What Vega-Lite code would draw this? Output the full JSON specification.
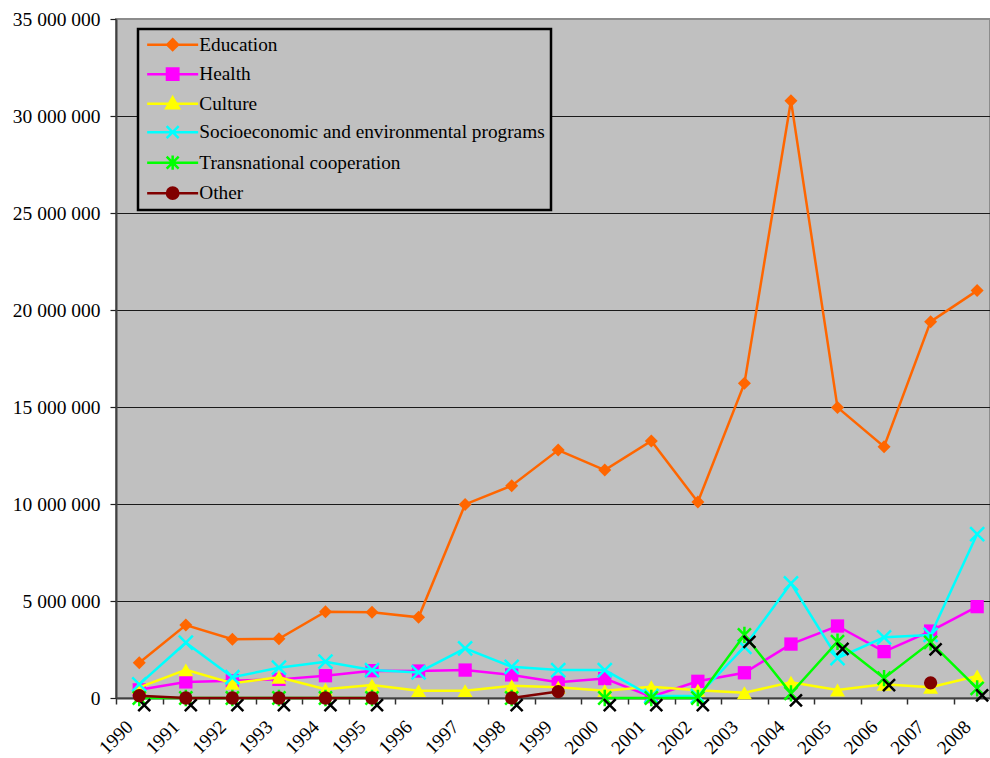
{
  "$schema": "https://vega.github.io/schema/vega-lite/v6.json",
  "width": 874,
  "height": 679,
  "autosize": {"type": "none"},
  "padding": {"left": 116, "top": 19, "right": 0, "bottom": 60},
  "background": "white",
  "config": {
    "view": {"fill": "#C0C0C0", "stroke": "#8c8c8c", "strokeWidth": 2},
    "legend": {
      "strokeWidth": 2.5,
      "strokeColor": "black",
      "fillColor": "#C0C0C0",
      "cornerRadius": 0
    }
  },
  "data": {
    "values": [
      {"year": 1990, "series": "Education", "value": 1820000},
      {"year": 1991, "series": "Education", "value": 3760000},
      {"year": 1992, "series": "Education", "value": 3030000},
      {"year": 1993, "series": "Education", "value": 3050000},
      {"year": 1994, "series": "Education", "value": 4450000},
      {"year": 1995, "series": "Education", "value": 4420000},
      {"year": 1996, "series": "Education", "value": 4160000},
      {"year": 1997, "series": "Education", "value": 9980000},
      {"year": 1998, "series": "Education", "value": 10940000},
      {"year": 1999, "series": "Education", "value": 12780000},
      {"year": 2000, "series": "Education", "value": 11750000},
      {"year": 2001, "series": "Education", "value": 13250000},
      {"year": 2002, "series": "Education", "value": 10100000},
      {"year": 2003, "series": "Education", "value": 16220000},
      {"year": 2004, "series": "Education", "value": 30790000},
      {"year": 2005, "series": "Education", "value": 14980000},
      {"year": 2006, "series": "Education", "value": 12950000},
      {"year": 2007, "series": "Education", "value": 19400000},
      {"year": 2008, "series": "Education", "value": 21000000},

      {"year": 1990, "series": "Health", "value": 420000},
      {"year": 1991, "series": "Health", "value": 830000},
      {"year": 1992, "series": "Health", "value": 890000},
      {"year": 1993, "series": "Health", "value": 960000},
      {"year": 1994, "series": "Health", "value": 1150000},
      {"year": 1995, "series": "Health", "value": 1410000},
      {"year": 1996, "series": "Health", "value": 1390000},
      {"year": 1997, "series": "Health", "value": 1440000},
      {"year": 1998, "series": "Health", "value": 1190000},
      {"year": 1999, "series": "Health", "value": 810000},
      {"year": 2000, "series": "Health", "value": 1000000},
      {"year": 2001, "series": "Health", "value": 70000},
      {"year": 2002, "series": "Health", "value": 860000},
      {"year": 2003, "series": "Health", "value": 1300000},
      {"year": 2004, "series": "Health", "value": 2780000},
      {"year": 2005, "series": "Health", "value": 3710000},
      {"year": 2006, "series": "Health", "value": 2390000},
      {"year": 2007, "series": "Health", "value": 3450000},
      {"year": 2008, "series": "Health", "value": 4710000},

      {"year": 1990, "series": "Culture", "value": 550000},
      {"year": 1991, "series": "Culture", "value": 1450000},
      {"year": 1992, "series": "Culture", "value": 760000},
      {"year": 1993, "series": "Culture", "value": 1070000},
      {"year": 1994, "series": "Culture", "value": 450000},
      {"year": 1995, "series": "Culture", "value": 670000},
      {"year": 1996, "series": "Culture", "value": 380000},
      {"year": 1997, "series": "Culture", "value": 380000},
      {"year": 1998, "series": "Culture", "value": 630000},
      {"year": 1999, "series": "Culture", "value": 550000},
      {"year": 2000, "series": "Culture", "value": 380000},
      {"year": 2001, "series": "Culture", "value": 580000},
      {"year": 2002, "series": "Culture", "value": 400000},
      {"year": 2003, "series": "Culture", "value": 270000},
      {"year": 2004, "series": "Culture", "value": 810000},
      {"year": 2005, "series": "Culture", "value": 410000},
      {"year": 2006, "series": "Culture", "value": 710000},
      {"year": 2007, "series": "Culture", "value": 550000},
      {"year": 2008, "series": "Culture", "value": 1130000},

      {"year": 1990, "series": "Socioeconomic and environmental programs", "value": 700000},
      {"year": 1991, "series": "Socioeconomic and environmental programs", "value": 2850000},
      {"year": 1992, "series": "Socioeconomic and environmental programs", "value": 1070000},
      {"year": 1993, "series": "Socioeconomic and environmental programs", "value": 1560000},
      {"year": 1994, "series": "Socioeconomic and environmental programs", "value": 1870000},
      {"year": 1995, "series": "Socioeconomic and environmental programs", "value": 1440000},
      {"year": 1996, "series": "Socioeconomic and environmental programs", "value": 1320000},
      {"year": 1997, "series": "Socioeconomic and environmental programs", "value": 2560000},
      {"year": 1998, "series": "Socioeconomic and environmental programs", "value": 1610000},
      {"year": 1999, "series": "Socioeconomic and environmental programs", "value": 1440000},
      {"year": 2000, "series": "Socioeconomic and environmental programs", "value": 1440000},
      {"year": 2001, "series": "Socioeconomic and environmental programs", "value": 100000},
      {"year": 2002, "series": "Socioeconomic and environmental programs", "value": 100000},
      {"year": 2003, "series": "Socioeconomic and environmental programs", "value": 2640000},
      {"year": 2004, "series": "Socioeconomic and environmental programs", "value": 5910000},
      {"year": 2005, "series": "Socioeconomic and environmental programs", "value": 2050000},
      {"year": 2006, "series": "Socioeconomic and environmental programs", "value": 3130000},
      {"year": 2007, "series": "Socioeconomic and environmental programs", "value": 3250000},
      {"year": 2008, "series": "Socioeconomic and environmental programs", "value": 8450000},

      {"year": 1990, "series": "Transnational cooperation", "value": 0},
      {"year": 1991, "series": "Transnational cooperation", "value": 0},
      {"year": 1992, "series": "Transnational cooperation", "value": 0},
      {"year": 1993, "series": "Transnational cooperation", "value": 0},
      {"year": 1994, "series": "Transnational cooperation", "value": 0},
      {"year": 1995, "series": "Transnational cooperation", "value": 0},
      {"year": 1996, "series": "Transnational cooperation", "value": null},
      {"year": 1997, "series": "Transnational cooperation", "value": null},
      {"year": 1998, "series": "Transnational cooperation", "value": 0},
      {"year": 1999, "series": "Transnational cooperation", "value": null},
      {"year": 2000, "series": "Transnational cooperation", "value": 0},
      {"year": 2001, "series": "Transnational cooperation", "value": 0},
      {"year": 2002, "series": "Transnational cooperation", "value": 0},
      {"year": 2003, "series": "Transnational cooperation", "value": 3250000},
      {"year": 2004, "series": "Transnational cooperation", "value": 240000},
      {"year": 2005, "series": "Transnational cooperation", "value": 2900000},
      {"year": 2006, "series": "Transnational cooperation", "value": 1020000},
      {"year": 2007, "series": "Transnational cooperation", "value": 2870000},
      {"year": 2008, "series": "Transnational cooperation", "value": 500000},

      {"year": 1990, "series": "Other", "value": 120000},
      {"year": 1991, "series": "Other", "value": 0},
      {"year": 1992, "series": "Other", "value": 0},
      {"year": 1993, "series": "Other", "value": 0},
      {"year": 1994, "series": "Other", "value": 0},
      {"year": 1995, "series": "Other", "value": 0},
      {"year": 1996, "series": "Other", "value": null},
      {"year": 1997, "series": "Other", "value": null},
      {"year": 1998, "series": "Other", "value": 0},
      {"year": 1999, "series": "Other", "value": 330000},
      {"year": 2000, "series": "Other", "value": null},
      {"year": 2001, "series": "Other", "value": null},
      {"year": 2002, "series": "Other", "value": null},
      {"year": 2003, "series": "Other", "value": null},
      {"year": 2004, "series": "Other", "value": null},
      {"year": 2005, "series": "Other", "value": null},
      {"year": 2006, "series": "Other", "value": null},
      {"year": 2007, "series": "Other", "value": 780000},
      {"year": 2008, "series": "Other", "value": null}
    ]
  },
  "encoding": {
    "x": {
      "field": "year",
      "type": "quantitative",
      "scale": {"domain": [1989.5, 2008.276], "nice": false, "zero": false},
      "axis": {
        "title": null,
        "values": [1989.5, 1990.5, 1991.5, 1992.5, 1993.5, 1994.5, 1995.5, 1996.5, 1997.5, 1998.5, 1999.5, 2000.5, 2001.5, 2002.5, 2003.5, 2004.5, 2005.5, 2006.5, 2007.5],
        "labelExpr": "format(datum.value + 0.5, 'd')",
        "labelAngle": -45,
        "labelFont": "Liberation Serif, Times New Roman, serif",
        "labelFontSize": 19.3,
        "labelColor": "black",
        "labelPadding": 13,
        "labelOffset": 7,
        "labelOverlap": false,
        "labelFlush": false,
        "labelBound": false,
        "tickSize": 6,
        "tickColor": "#303030",
        "tickWidth": 1.5,
        "domainColor": "#404040",
        "domainWidth": 2,
        "grid": false
      }
    },
    "y": {
      "field": "value",
      "type": "quantitative",
      "scale": {"domain": [0, 35000000], "nice": false, "zero": true},
      "axis": {
        "title": null,
        "values": [0, 5000000, 10000000, 15000000, 20000000, 25000000, 30000000, 35000000],
        "labelExpr": "replace(replace(format(datum.value, ',d'), ',', ' '), ',', ' ')",
        "labelFont": "Liberation Serif, Times New Roman, serif",
        "labelFontSize": 19.5,
        "labelColor": "black",
        "labelPadding": 10,
        "tickSize": 6,
        "tickColor": "#202020",
        "tickWidth": 1.2,
        "domainColor": "#404040",
        "domainWidth": 2,
        "grid": true,
        "gridColor": {"condition": {"test": "datum.value === 35000000", "value": "#8c8c8c"}, "value": "#1a1a1a"},
        "gridWidth": 1.2
      }
    }
  },
  "layer": [
    {
      "transform": [{"filter": "datum.series === 'Education'"}],
      "layer": [
        {"mark": {"type": "line", "color": "#FF6600", "strokeWidth": 2.5, "invalid": "break-paths-filter-domains"}, "encoding": {}},
        {"mark": {"type": "point", "shape": "diamond", "filled": true, "size": 169, "color": "#FF6600", "opacity": 1}}
      ]
    },
    {
      "transform": [{"filter": "datum.series === 'Health'"}],
      "layer": [
        {"mark": {"type": "line", "color": "#FF00FF", "strokeWidth": 2.5, "invalid": "break-paths-filter-domains"}, "encoding": {}},
        {"mark": {"type": "point", "shape": "square", "filled": true, "size": 177, "color": "#FF00FF", "opacity": 1}}
      ]
    },
    {
      "transform": [{"filter": "datum.series === 'Culture'"}],
      "layer": [
        {"mark": {"type": "line", "color": "#FFFF00", "strokeWidth": 2.5, "invalid": "break-paths-filter-domains"}, "encoding": {}},
        {"mark": {"type": "point", "shape": "triangle-up", "filled": true, "size": 225, "color": "#FFFF00", "opacity": 1}}
      ]
    },
    {
      "transform": [{"filter": "datum.series === 'Socioeconomic and environmental programs'"}],
      "layer": [
        {"mark": {"type": "line", "color": "#00FFFF", "strokeWidth": 2.5, "invalid": "break-paths-filter-domains"}, "encoding": {}},
        {"mark": {"type": "point", "shape": "M-1,-1L1,1M1,-1L-1,1", "filled": false, "size": 196, "stroke": "#00FFFF", "strokeWidth": 2.5, "opacity": 1}}
      ]
    },
    {
      "transform": [{"filter": "datum.series === 'Transnational cooperation'"}],
      "layer": [
        {"mark": {"type": "line", "color": "#00FF00", "strokeWidth": 2.5, "invalid": "break-paths-filter-domains"}, "encoding": {}},
        {"mark": {"type": "point", "shape": "M-1,-1L1,1M1,-1L-1,1M0,-1.25V1.25", "filled": false, "size": 170, "stroke": "#00FF00", "strokeWidth": 2.5, "opacity": 1}},
        {"mark": {"type": "point", "shape": "M-0.17,0.17L1.83,2.17M1.83,0.17L-0.17,2.17", "filled": false, "size": 144, "stroke": "black", "strokeWidth": 2.5, "opacity": 1}}
      ]
    },
    {
      "transform": [{"filter": "datum.series === 'Other'"}],
      "layer": [
        {"mark": {"type": "line", "color": "#800000", "strokeWidth": 2.5, "invalid": "break-paths-filter-domains"}, "encoding": {}},
        {"mark": {"type": "point", "shape": "circle", "filled": true, "size": 177, "color": "#800000", "opacity": 1}}
      ]
    },
    {
      "mark": {"type": "point", "filled": true, "opacity": 0},
      "encoding": {
        "fill": {
          "field": "series", "type": "nominal",
          "scale": {
            "domain": ["Education", "Health", "Culture", "Socioeconomic and environmental programs", "Transnational cooperation", "Other"],
            "range": ["#FF6600", "#FF00FF", "#FFFF00", "#00FFFF", "#00FF00", "#800000"]
          },
          "legend": {
            "title": null, "orient": "none", "legendX": 22, "legendY": 10,
            "padding": 6, "symbolOffset": 19, "labelOffset": 17, "symbolSize": 144,
            "symbolStrokeWidth": 2.5, "symbolOpacity": 1, "rowPadding": 6.5,
            "labelFont": "Liberation Serif, Times New Roman, serif", "labelFontSize": 19.3, "labelColor": "black", "labelLimit": 500,
            "fillColor": "#C0C0C0", "strokeColor": "black"
          }
        },
        "stroke": {
          "field": "series", "type": "nominal",
          "scale": {
            "domain": ["Education", "Health", "Culture", "Socioeconomic and environmental programs", "Transnational cooperation", "Other"],
            "range": ["#FF6600", "#FF00FF", "#FFFF00", "#00FFFF", "#00FF00", "#800000"]
          },
          "legend": {
            "title": null, "orient": "none", "legendX": 22, "legendY": 10,
            "padding": 6, "symbolOffset": 19, "labelOffset": 17, "symbolSize": 144,
            "symbolStrokeWidth": 2.5, "symbolOpacity": 1, "rowPadding": 6.5,
            "labelFont": "Liberation Serif, Times New Roman, serif", "labelFontSize": 19.3, "labelColor": "black", "labelLimit": 500,
            "fillColor": "#C0C0C0", "strokeColor": "black"
          }
        },
        "shape": {
          "field": "series", "type": "nominal",
          "scale": {
            "domain": ["Education", "Health", "Culture", "Socioeconomic and environmental programs", "Transnational cooperation", "Other"],
            "range": [
              "M-4.25,0H4.25M0,-0.9L0.9,0L0,0.9L-0.9,0Z",
              "M-4.25,0H4.25M-0.95,-0.95H0.95V0.95H-0.95Z",
              "M-4.25,0H4.25M0,-1.05L1.05,0.75H-1.05Z",
              "M-4.25,0H4.25M-1,-1L1,1M1,-1L-1,1",
              "M-4.25,0H4.25M-1,-1L1,1M1,-1L-1,1M0,-1.2V1.2",
              "M-4.25,0H4.25M0.95,0A0.95,0.95,0,1,1,-0.95,0A0.95,0.95,0,1,1,0.95,0Z"
            ]
          },
          "legend": {
            "title": null, "orient": "none", "legendX": 22, "legendY": 10,
            "padding": 6, "symbolOffset": 19, "labelOffset": 17, "symbolSize": 144,
            "symbolStrokeWidth": 2.5, "symbolOpacity": 1, "rowPadding": 6.5,
            "labelFont": "Liberation Serif, Times New Roman, serif", "labelFontSize": 19.3, "labelColor": "black", "labelLimit": 500,
            "fillColor": "#C0C0C0", "strokeColor": "black"
          }
        }
      }
    }
  ]
}
